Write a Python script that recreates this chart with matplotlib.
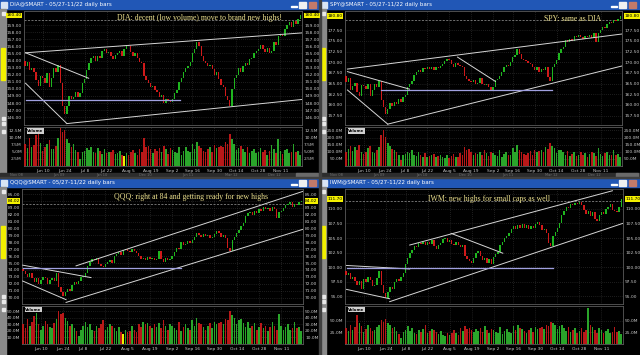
import matplotlib
matplotlib.use('Agg')
import matplotlib.pyplot as plt
from matplotlib.patches import Rectangle
import numpy as np

# x positions (trading-day index, 0 = May 28) of the date ticks
date_pos = [9, 19, 28, 38, 48, 58, 68, 77, 87, 97, 107, 117]
date_labels = ['Jun 10', 'Jun 24', 'Jul 8', 'Jul 22', 'Aug 5', 'Aug 19',
               'Sep 2', 'Sep 16', 'Sep 30', 'Oct 14', 'Oct 28', 'Nov 11']
scroll_labels = ['Nov 08', 'Jun 09', 'Jan 10', 'Dec 10', 'Jun 11', 'Mar 12', 'Dec 12']

dia_close = [154.0, 153.3, 153.8, 152.6, 152.9, 152.4, 151.2, 150.4, 151.8,
             151.6, 150.8, 152.2, 150.2, 151.6, 153.0, 152.4, 153.4, 150.8, 147.6,
             146.4, 147.6, 149.0, 148.6, 148.9, 149.6, 148.8, 149.4, 150.9,
             151.4, 152.6, 153.6, 154.4, 154.6, 154.0, 154.7, 154.3, 155.4, 155.6,
             155.0, 155.2, 154.6, 154.2, 154.8, 155.0, 155.4, 154.6, 155.6, 156.2,
             156.0, 155.2, 154.6, 155.0, 154.4, 153.8, 153.6, 151.8, 151.2, 150.8,
             150.2, 150.4, 149.8, 149.6, 148.8, 149.2, 148.0, 148.6, 148.4, 148.2,
             148.6, 149.4, 149.8, 151.0, 151.6, 152.4, 153.0, 153.2, 153.8,
             155.0, 155.6, 156.6, 156.0, 154.6, 154.0, 153.6, 153.2, 153.4, 152.8,
             152.0, 152.4, 151.4, 150.6, 150.2, 149.0, 148.4, 147.6, 150.0, 151.6,
             152.0, 153.0, 152.4, 153.2, 153.6, 153.4, 154.2, 154.4, 155.0, 155.4,
             155.6, 156.2, 155.6, 155.2, 155.8, 155.0, 155.4, 156.6, 156.2, 157.4,
             157.6, 157.4, 158.4, 159.0, 159.4, 158.8, 159.6, 159.2, 159.8, 160.4]
dia_vol = [8.0, 7.6, 6.2, 9.8, 6.8, 7.4, 11.0, 11.6, 8.2,
           5.4, 6.6, 7.8, 9.0, 6.0, 5.8, 7.0, 9.8, 13.2, 12.0,
           12.6, 9.4, 8.0, 6.8, 7.6, 5.6, 4.8, 2.6, 5.0,
           5.4, 6.2, 5.6, 6.8, 5.0, 4.6, 6.4, 5.2, 4.2, 6.0,
           4.4, 5.0, 4.8, 5.6, 4.2, 4.6, 5.2, 4.0, 3.6, 4.6,
           4.0, 4.8, 5.6, 4.4, 3.8, 6.0, 5.0, 9.8, 6.6, 7.2,
           5.8, 4.6, 6.0, 5.2, 6.4, 5.0, 7.0, 5.8, 4.2, 6.2,
           5.6, 5.0, 4.6, 6.8, 4.0, 5.4, 6.6, 5.2, 4.8,
           7.6, 6.0, 8.6, 7.2, 6.4, 5.4, 4.8, 5.8, 6.8, 5.0,
           7.4, 6.2, 6.8, 7.0, 6.6, 8.4, 7.6, 11.2, 9.6, 7.8,
           5.6, 6.4, 7.2, 6.0, 5.0, 6.8, 4.6, 5.2, 6.0, 4.4,
           5.0, 6.2, 4.8, 5.6, 4.0, 5.4, 7.4, 5.8, 4.6, 9.6,
           5.2, 4.2, 5.6, 6.0, 4.4, 5.0, 7.8, 4.8, 5.2, 3.8]

spy_close = [166.8, 165.4, 166.2, 163.6, 164.4, 165.2, 163.0, 162.2, 164.6,
             164.4, 163.8, 165.0, 162.2, 163.6, 164.8, 164.2, 165.6, 161.2, 159.6,
             157.8, 159.0, 160.4, 159.8, 160.6, 160.2, 161.4, 160.8, 161.8,
             162.4, 164.2, 164.8, 165.6, 167.0, 167.6, 168.2, 167.8, 168.6, 168.4,
             169.0, 168.4, 168.8, 168.2, 169.0, 168.6, 169.2, 169.6, 170.4, 170.8,
             170.6, 169.6, 169.0, 169.8, 169.4, 169.2, 168.8, 166.8, 166.0, 165.6,
             165.4, 165.8, 164.8, 165.2, 166.2, 165.0, 164.6, 165.0, 164.2, 163.6,
             164.2, 165.8, 166.0, 166.8, 167.6, 168.8, 169.4, 169.2, 170.0,
             171.2, 171.6, 173.0, 172.0, 170.8, 170.6, 170.2, 169.8, 169.6, 169.0,
             168.2, 168.8, 167.8, 168.4, 168.2, 168.8, 166.6, 165.6, 168.8, 169.6,
             170.6, 172.2, 173.0, 173.6, 175.2, 174.8, 175.4, 175.0, 176.2, 176.0,
             176.4, 176.0, 175.4, 176.2, 175.8, 176.4, 175.6, 176.8, 174.8, 176.8,
             177.6, 178.2, 178.0, 179.0, 179.4, 179.2, 179.8, 179.6, 180.2, 180.8]
spy_vol = [110, 95, 120, 140, 105, 130, 115, 150, 100,
           85, 100, 125, 140, 95, 90, 110, 130, 215, 255,
           205, 160, 140, 120, 115, 100, 75, 45, 80,
           85, 95, 90, 110, 75, 70, 95, 80, 65, 90,
           60, 70, 75, 85, 65, 70, 80, 60, 55, 75,
           55, 70, 85, 65, 60, 90, 80, 135, 110, 120,
           95, 75, 90, 85, 100, 80, 110, 90, 70, 95,
           90, 80, 70, 110, 65, 85, 100, 80, 75,
           125, 95, 150, 110, 100, 85, 75, 90, 105, 80,
           115, 100, 105, 110, 100, 130, 120, 165, 140, 125,
           90, 110, 115, 95, 80, 105, 70, 85, 95, 70,
           75, 95, 80, 90, 65, 85, 100, 90, 70, 125,
           85, 70, 90, 95, 75, 80, 110, 75, 85, 65]

qqq_close = [74.2, 73.8, 73.4, 73.0, 73.5, 72.8, 72.2, 72.9, 71.9,
             72.6, 73.0, 72.8, 72.0, 72.6, 72.9, 72.4, 73.5, 71.6, 70.8,
             70.2, 70.8, 71.2, 71.0, 71.8, 72.2, 72.0, 72.4, 73.0,
             73.2, 73.6, 74.6, 75.2, 75.6, 75.4, 75.8, 74.8, 74.6, 74.4,
             74.8, 75.2, 75.4, 75.0, 76.0, 76.3, 76.6, 76.2, 76.9, 77.0,
             76.8, 76.6, 77.0, 76.8, 76.4, 76.0, 75.6, 75.8, 75.4, 75.9,
             75.6, 75.8, 75.4, 75.6, 76.8, 75.6, 75.2, 75.8, 75.4, 75.6,
             76.0, 76.6, 77.2, 77.0, 78.0, 77.6, 77.8, 78.2, 77.9,
             78.4, 78.8, 79.4, 79.0, 78.8, 79.2, 78.9, 79.0, 78.6, 78.8,
             79.2, 79.6, 79.4, 78.8, 79.0, 78.6, 77.2, 76.8, 78.3, 78.8,
             79.3, 79.8, 80.4, 80.8, 81.8, 82.2, 82.4, 82.0, 82.6, 82.2,
             82.8, 82.6, 83.2, 82.8, 83.0, 82.6, 83.2, 82.8, 81.6, 82.4,
             82.6, 83.0, 83.4, 83.6, 83.8, 83.2, 83.6, 83.4, 83.8, 84.02]
qqq_vol = [27, 30, 24, 38, 28, 33, 42, 48, 30,
           22, 28, 35, 30, 26, 25, 32, 38, 50, 46,
           48, 40, 35, 28, 30, 25, 20, 12, 22,
           28, 34, 26, 30, 22, 20, 28, 24, 30, 36,
           22, 26, 30, 28, 24, 20, 26, 18, 16, 22,
           18, 20, 28, 22, 18, 30, 26, 34, 30, 32,
           28, 24, 30, 26, 32, 24, 36, 28, 22, 30,
           28, 24, 22, 34, 20, 26, 30, 24, 22,
           36, 28, 40, 32, 30, 26, 22, 28, 32, 24,
           34, 30, 32, 34, 30, 38, 36, 50, 44, 40,
           30, 36, 38, 32, 26, 34, 24, 28, 32, 22,
           26, 32, 24, 28, 20, 26, 34, 28, 22, 46,
           28, 22, 26, 30, 22, 24, 34, 24, 26, 20]

iwm_close = [99.4, 98.6, 99.0, 98.0, 98.4, 97.6, 97.0, 97.6, 96.2,
             98.0, 97.4, 98.4, 97.8, 96.8, 97.0, 98.2, 99.3, 97.0, 95.6,
             94.8, 95.8, 96.6, 96.2, 97.4, 98.0, 97.6, 98.4, 99.0,
             100.6, 101.6, 102.4, 103.0, 103.6, 103.4, 104.2, 104.0, 104.4, 103.8,
             104.4, 104.0, 104.6, 103.6, 103.2, 103.8, 104.2, 104.8, 105.0, 104.4,
             104.6, 104.0, 103.8, 104.4, 103.8, 103.4, 103.8, 102.0, 101.4, 101.0,
             100.8, 101.6, 102.4, 102.8, 102.0, 101.2, 101.6, 100.8, 101.4, 100.6,
             101.8, 102.2, 102.6, 103.8, 104.4, 105.0, 105.4, 105.8, 106.6,
             107.0, 106.6, 107.2, 106.8, 107.4, 106.8, 107.2, 106.6, 107.0, 106.8,
             107.4, 107.8, 107.2, 106.4, 106.6, 105.8, 104.2, 103.6, 105.4, 106.0,
             106.8, 107.6, 109.0, 109.6, 110.4, 110.2, 110.8, 110.6, 111.0, 110.8,
             111.2, 110.6, 109.8, 109.2, 109.6, 108.8, 109.4, 108.2, 108.0, 109.0,
             109.4, 109.2, 110.0, 110.4, 110.8, 109.8, 109.6, 109.4, 110.4, 111.7]
iwm_vol = [32, 35, 28, 40, 30, 36, 62, 45, 38,
           25, 32, 40, 34, 28, 30, 36, 42, 52, 48,
           55, 46, 40, 34, 36, 28, 22, 12, 26,
           30, 38, 28, 34, 24, 22, 30, 26, 32, 40,
           24, 28, 32, 30, 26, 22, 28, 20, 18, 24,
           20, 24, 30, 24, 20, 34, 28, 38, 32, 35,
           30, 26, 32, 28, 35, 26, 38, 30, 24, 32,
           30, 26, 24, 36, 22, 28, 32, 26, 24,
           38, 30, 42, 34, 32, 28, 24, 30, 34, 26,
           36, 32, 34, 36, 32, 40, 38, 48, 45, 42,
           32, 38, 40, 34, 28, 36, 26, 30, 34, 24,
           28, 34, 26, 30, 78, 42, 36, 30, 24, 34,
           30, 24, 28, 32, 24, 26, 36, 26, 28, 22]

# trend lines: (bar0, price0, bar1, price1)
dia_lines = [(1.2, 155.1, 126.6, 157.9), (1.2, 155.1, 29.9, 151.5),
             (1.2, 150.8, 20.0, 145.1), (20.0, 145.1, 126.6, 148.5)]
spy_lines = [(1.6, 168.4, 126.6, 176.6), (1.6, 167.8, 29.9, 163.7),
             (1.6, 163.5, 20.0, 155.5), (20.0, 155.5, 126.6, 169.1),
             (51.8, 171.2, 69.1, 165.5)]
qqq_lines = [(24.8, 74.6, 126.8, 85.4), (20.3, 69.3, 126.8, 79.9),
             (0.8, 74.7, 31.5, 72.9), (0.8, 72.4, 20.3, 69.7)]
iwm_lines = [(29.9, 103.8, 122.0, 113.1), (48.7, 105.8, 72.2, 102.4),
             (20.8, 94.1, 126.6, 107.5), (1.2, 100.3, 29.9, 99.7),
             (1.2, 96.2, 20.8, 94.6)]

panels = [
    dict(ox=0, oy=0, name='DIA', close=dia_close, vol=dia_vol, lines=dia_lines,
         hline=(148.4, 1.2, 71.5), dash=159.7, ylim=(144.9, 161.0),
         ticks=np.arange(146, 160, 1.0), vlim=(0, 13.7),
         vticks=[2.5, 5.0, 7.5, 10.0, 12.5], vfmt='{:.1f}M', hl_bar=46,
         note='DIA: decent (low volume) move to brand new highs!', note_xy=(0.63, 0.94),
         px=(24, 302), py=(11, 125), vy=(127, 166), top=True),
    dict(ox=320, oy=0, name='SPY', close=spy_close, vol=spy_vol, lines=spy_lines,
         hline=(163.5, 17.0, 94.8), dash=179.9, ylim=(155.3, 182.0),
         ticks=np.arange(157.5, 180, 2.5), vlim=(0, 274),
         vticks=[50, 100, 150, 200, 250], vfmt='{:.1f}M', hl_bar=None,
         note='SPY: same as DIA', note_xy=(0.82, 0.93),
         px=(25, 302), py=(11, 125), vy=(127, 166), top=True),
    dict(ox=0, oy=178, name='QQQ', close=qqq_close, vol=qqq_vol, lines=qqq_lines,
         hline=(74.3, 0.8, 72.0), dash=83.5, ylim=(69.07, 85.74),
         ticks=np.arange(70, 86, 1.0), vlim=(0, 58),
         vticks=[10, 20, 30, 40, 50], vfmt='{:.1f}M', hl_bar=46,
         note='QQQ: right at 84 and getting ready for new highs', note_xy=(0.60, 0.93),
         px=(22, 303), py=(189, 304), vy=(306, 344), top=False),
    dict(ox=320, oy=178, name='IWM', close=iwm_close, vol=iwm_vol, lines=iwm_lines,
         hline=(99.9, 1.2, 94.8), dash=111.4, ylim=(93.7, 113.4),
         ticks=np.arange(95, 113, 2.5), vlim=(0, 82),
         vticks=[25, 50], vfmt='{:.1f}M', hl_bar=None,
         note='IWM: new highs for small caps as well', note_xy=(0.52, 0.91),
         px=(25, 303), py=(189, 304), vy=(306, 344), top=False),
]

W, H = 640, 355
fig = plt.figure(figsize=(W / 100, H / 100), dpi=100)
fig.patch.set_facecolor('black')

bg = fig.add_axes([0, 0, 1, 1])
bg.set_xlim(0, W)
bg.set_ylim(H, 0)
bg.axis('off')


def px_axes(x0, y0, x1, y1):
    return fig.add_axes([x0 / W, 1 - y1 / H, (x1 - x0) / W, (y1 - y0) / H])


green, red = '#1fb51f', '#d01a1a'
txt = '#c8c8c8'
grid_kw = dict(color='#3a3a3a', lw=0.5, ls=(0, (1, 2)), zorder=1)

for p in panels:
    ox, oy = p['ox'], p['oy']
    bottom = oy + 177
    # window chrome
    bg.add_patch(Rectangle((ox, oy), 320, 9, color='#2157b6'))
    bg.add_patch(Rectangle((ox + 1, oy + 1.5), 6, 6, color='#d8e4f4'))
    bg.text(ox + 10, oy + 4.8, p['name'] + '@SMART - 05/27-11/22 daily bars',
            color='white', fontsize=4, va='center')
    bg.add_patch(Rectangle((ox + 291, oy + 5.5), 6, 1.2, color='white'))
    bg.add_patch(Rectangle((ox + 299, oy + 1.5), 7, 6, color='#f0f0f0'))
    bg.add_patch(Rectangle((ox + 308.5, oy + 1.5), 7, 6, color='#c27a6a'))
    bg.add_patch(Rectangle((ox, oy + 9), 6, bottom - oy - 9, color='#8a8a8a'))
    bg.add_patch(Rectangle((ox + 1, oy + 48), 4, 32, color='#f2f000'))
    for iy in (12, 117, 122, 130):
        bg.add_patch(Rectangle((ox + 1.5, oy + iy), 3, 3, color='#e8e8e8'))
    if p['top']:
        bg.add_patch(Rectangle((ox, 172.5), 320, 5, color='#2c2c2c'))
        bg.add_patch(Rectangle((ox + 296, 172.5), 22, 5, color='#6a6a6a'))
        for k, lab in enumerate(scroll_labels):
            bg.text(ox + 10 + k * 43, 175, lab, color='#707070', fontsize=2.6, va='center')

    x = np.arange(len(p['close']))
    c = np.array(p['close'])
    o = np.r_[c[0], c[:-1]]
    up = c >= o
    cols = np.where(up, green, red)

    # price pane
    ax = px_axes(ox + p['px'][0], p['py'][0], ox + p['px'][1], p['py'][1])
    ax.set_facecolor('black')
    span = p['ylim'][1] - p['ylim'][0]
    body = np.maximum(np.abs(c - o), span * 0.008)
    ax.bar(x, body, bottom=np.minimum(o, c), width=0.62, color=cols, zorder=3)
    for x0, y0, x1, y1 in p['lines']:
        ax.plot([x0, x1], [y0, y1], color='#d6d6d6', lw=0.7, zorder=4)
    hy, hx0, hx1 = p['hline']
    ax.plot([hx0, hx1], [hy, hy], color='#a0a0e0', lw=0.9, zorder=4)
    ax.axhline(p['dash'], color='#9a9a9a', lw=0.5, ls=(0, (3, 2)), zorder=2)
    for d in date_pos:
        ax.axvline(d, **grid_kw)
    for t in p['ticks']:
        ax.axhline(t, **grid_kw)
    ax.set_xlim(0.5, 126.8)
    ax.set_ylim(*p['ylim'])
    last = c[-1]
    ticks = [t for t in p['ticks'] if abs(t - last) > span * 0.045]
    ax.set_yticks(ticks)
    ax.set_yticklabels(['{:.2f}'.format(t) for t in ticks])
    ax.set_xticks([])
    ax.tick_params(axis='y', labelsize=3.2, labelcolor=txt, length=0, pad=1.5,
                   labelleft=True, labelright=True)
    for s in ax.spines.values():
        s.set_color('#5a5a5a')
        s.set_linewidth(0.6)
    for xa, ha in ((-0.008, 'right'), (1.008, 'left')):
        ax.text(xa, last, '{:.2f}'.format(last), transform=ax.get_yaxis_transform(),
                fontsize=3.2, color='black', ha=ha, va='center',
                bbox=dict(boxstyle='square,pad=0.15', fc='#f4f000', ec='none'))
    ax.text(p['note_xy'][0], p['note_xy'][1], p['note'], transform=ax.transAxes,
            fontsize=5.6, color='#ece08e', family='Liberation Serif',
            ha='center', va='center', zorder=6)

    # volume pane
    va = px_axes(ox + p['px'][0], p['vy'][0], ox + p['px'][1], p['vy'][1])
    va.set_facecolor('black')
    vcols = list(np.where(up, '#2aa52a', '#b81818'))
    if p['hl_bar'] is not None:
        vcols[p['hl_bar']] = '#f0f000'
    va.bar(x, p['vol'], width=0.7, color=vcols, zorder=3)
    for d in date_pos:
        va.axvline(d, **grid_kw)
    for t in p['vticks']:
        va.axhline(t, **grid_kw)
    va.set_xlim(0.5, 126.8)
    va.set_ylim(*p['vlim'])
    va.set_yticks(p['vticks'])
    va.set_yticklabels([p['vfmt'].format(v) for v in p['vticks']])
    va.set_xticks(date_pos)
    va.set_xticklabels(date_labels)
    va.tick_params(axis='y', labelsize=3.2, labelcolor=txt, length=0, pad=1.5,
                   labelleft=True, labelright=True)
    va.tick_params(axis='x', labelsize=3.2, labelcolor=txt, length=0, pad=2)
    for s in va.spines.values():
        s.set_color('#5a5a5a')
        s.set_linewidth(0.6)
    va.text(0.012, 0.955, 'Volume', transform=va.transAxes, fontsize=2.8,
            color='black', weight='bold', va='top', zorder=6,
            bbox=dict(boxstyle='square,pad=0.2', fc='#d0d0d0', ec='none'))

# separators between the four windows
bg.add_patch(Rectangle((318.5, 0), 2, H, color='#404040'))
bg.add_patch(Rectangle((0, 177), W, 1.2, color='#404040'))

fig.savefig('out.png', dpi=100, facecolor=fig.get_facecolor())
